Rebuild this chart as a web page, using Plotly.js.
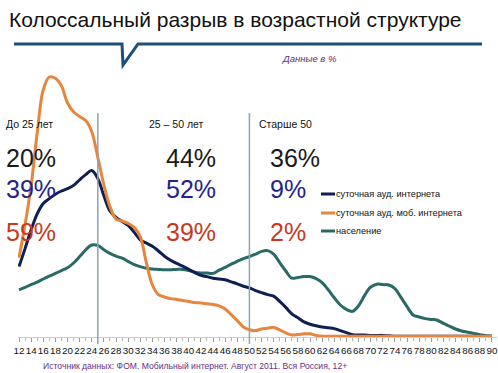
<!DOCTYPE html>
<html>
<head>
<meta charset="utf-8">
<script src="https://cdn.plot.ly/plotly-3.0.1.min.js"></script>
<style>html,body{margin:0;padding:0;background:#fff;}#chart{width:498px;height:373px;}</style>
</head>
<body>
<div id="chart"></div>
<script>
// Age (years)
var ages = [];
for (var a = 12; a <= 90; a++) ages.push(a);

// Daily internet audience, distribution by age
var internetAud = [1.76,2.21,2.68,3.08,3.34,3.46,3.57,3.65,3.71,3.79,3.93,4.06,4.16,3.96,3.53,3.15,2.99,2.89,2.79,2.62,
  2.43,2.35,2.27,2.15,2.02,1.92,1.84,1.77,1.69,1.61,1.54,1.51,1.47,1.45,1.43,1.38,1.33,1.27,1.23,1.16,
  1.11,1.06,1.02,0.89,0.74,0.58,0.48,0.38,0.32,0.28,0.25,0.23,0.21,0.16,0.11,0.06,0.05,0.05,0.04,0.04,
  0.04,0.03,0.02,0.02,0.02,0.02,0.02,0.02,0.02,0.02,0.02,0.02,0.02,0.02,0.02,0.02,0.02,0.02,0.02];

// Daily mobile internet audience
var mobileAud = [1.98,2.81,3.79,5.10,6.18,6.50,6.47,6.28,5.85,5.63,5.51,5.41,5.13,4.49,3.80,3.26,2.95,2.90,2.84,2.74,
  2.51,1.86,1.30,1.06,1.00,0.96,0.94,0.91,0.89,0.86,0.85,0.83,0.81,0.78,0.70,0.56,0.41,0.25,0.18,0.16,
  0.20,0.22,0.24,0.18,0.10,0.05,0.06,0.08,0.08,0.04,0.02,0.02,0.02,0.02,0.02,0.02,0.02,0.02,0.02,0.02,
  0.02,0.02,0.02,0.02,0.02,0.02,0.02,0.02,0.02,0.02,0.02,0.02,0.02,0.02,0.02,0.02,0.02,0.02,0.02];

// Population
var population = [1.18,1.24,1.31,1.37,1.45,1.52,1.59,1.66,1.73,1.85,2.01,2.18,2.30,2.29,2.18,2.09,2.02,1.97,1.89,1.81,
  1.76,1.72,1.70,1.69,1.68,1.68,1.69,1.69,1.66,1.62,1.60,1.60,1.59,1.67,1.74,1.82,1.89,1.96,2.01,2.07,
  2.14,2.16,2.07,1.86,1.65,1.47,1.49,1.51,1.51,1.46,1.36,1.18,0.98,0.80,0.69,0.64,0.78,1.04,1.25,1.32,
  1.31,1.30,1.21,0.99,0.76,0.55,0.50,0.46,0.44,0.42,0.34,0.27,0.20,0.15,0.12,0.09,0.06,0.03,0.02];

var tickVals = [];
for (var t = 12; t <= 90; t += 2) tickVals.push(t);

var seriesNames = ["суточная ауд. интернета", "суточная ауд. моб. интернета", "население"];
var groupLabels = ["До 25 лет", "25 – 50 лет", "Старше 50"];
var groupBounds = [25, 50];
var sharePopulation = ["20%", "44%", "36%"];
var shareInternet = ["39%", "52%", "9%"];
var shareMobile = ["59%", "39%", "2%"];

var C_NET = "#0f1f52", C_MOB = "#e8853d", C_POP = "#2a6a66";
var SANS = "Liberation Sans, Arial, sans-serif";

// pixel helpers for decorations (plot area: x 18..497, y 57..337)
var L = 18, T = 57, W = 479, H = 280;
function px(x) { return (x - L) / W; }
function py(y) { return (T + H - y) / H; }

var traces = [
  {x: ages, y: population, name: seriesNames[2], mode: "lines", line: {color: C_POP, width: 3, shape: "spline", smoothing: 1}},
  {x: ages, y: internetAud, name: seriesNames[0], mode: "lines", line: {color: C_NET, width: 3, shape: "spline", smoothing: 1}},
  {x: ages, y: mobileAud, name: seriesNames[1], mode: "lines", line: {color: C_MOB, width: 3, shape: "spline", smoothing: 1}}
];

var shapes = [
  {type: "path", xref: "paper", yref: "paper",
   path: "M" + px(14) + "," + py(44) + " L" + px(122) + "," + py(44) + " L" + px(123) + "," + py(65) +
         " L" + px(138) + "," + py(44) + " L" + px(482) + "," + py(44),
   line: {color: "#1d4f7e", width: 3}}
];
groupBounds.forEach(function (b) {
  shapes.push({type: "line", xref: "x", yref: "paper", x0: b, x1: b, y0: py(344), y1: py(113),
               line: {color: "#8ea2b6", width: 1.5}});
});
// legend samples
var legendColors = [C_NET, C_MOB, C_POP];
var legendY = [194, 213, 231];
legendColors.forEach(function (c, i) {
  shapes.push({type: "line", xref: "paper", yref: "paper", x0: px(321), x1: px(335), y0: py(legendY[i]), y1: py(legendY[i]),
               line: {color: c, width: 3}});
});

var annotations = [];
function ann(text, x, y, size, color, extra) {
  var o = {text: text, xref: "paper", yref: "paper", x: px(x), y: py(y), xanchor: "left", yanchor: "middle",
           showarrow: false, font: {size: size, color: color, family: SANS}};
  if (extra) for (var k in extra) o[k] = extra[k];
  annotations.push(o);
}
var colX = [4, 164, 268];
var labX = [4, 147, 257];
for (var i = 0; i < 3; i++) {
  ann(groupLabels[i], labX[i], 124, 10.5, "#111");
  ann(sharePopulation[i], colX[i], 158, 25, "#1a1a1a");
  ann(shareInternet[i], colX[i], 189, 25, "#23238a");
  ann(shareMobile[i], colX[i], 232, 25, "#c5391c");
}
for (var j = 0; j < 3; j++) ann(seriesNames[j], 334, legendY[j], 9.2, "#111");
ann("Данные в %", 280, 59, 9.5, "#5b2f78", {font: {size: 9.5, color: "#5b2f78", family: SANS, style: "italic"}});
ann("Источник данных: ФОМ. Мобильный интернет. Август 2011. Вся Россия, 12+", 41, 366, 8.6, "#6a2d82");

var layout = {
  width: 498, height: 373,
  margin: {l: L, r: 498 - L - W, t: T, b: 373 - T - H, pad: 0},
  paper_bgcolor: "#fff", plot_bgcolor: "#fff",
  showlegend: false,
  title: {text: "Колоссальный разрыв в возрастной структуре", xref: "container", yref: "container",
          x: 9 / 498, xanchor: "left", y: 1 - 20 / 373, yanchor: "middle",
          font: {size: 21, color: "#111", family: SANS}},
  xaxis: {range: [11.835, 90.835], tickvals: tickVals, ticktext: tickVals.map(String), tickangle: 0,
          ticks: "outside", ticklen: 4, tickcolor: "#9a9a9a", tickwidth: 1,
          minor: {dtick: 1, tick0: 12, ticks: "outside", ticklen: 3, tickcolor: "#b0b0b0"},
          showline: true, linecolor: "#cfcfcf", linewidth: 1, showgrid: false, zeroline: false,
          tickfont: {size: 9.8, color: "#111", family: SANS}, fixedrange: true},
  yaxis: {range: [0, 7], visible: false, showgrid: false, zeroline: false, fixedrange: true},
  shapes: shapes,
  annotations: annotations
};

Plotly.newPlot("chart", traces, layout, {displayModeBar: false, staticPlot: true});
</script>
</body>
</html>
